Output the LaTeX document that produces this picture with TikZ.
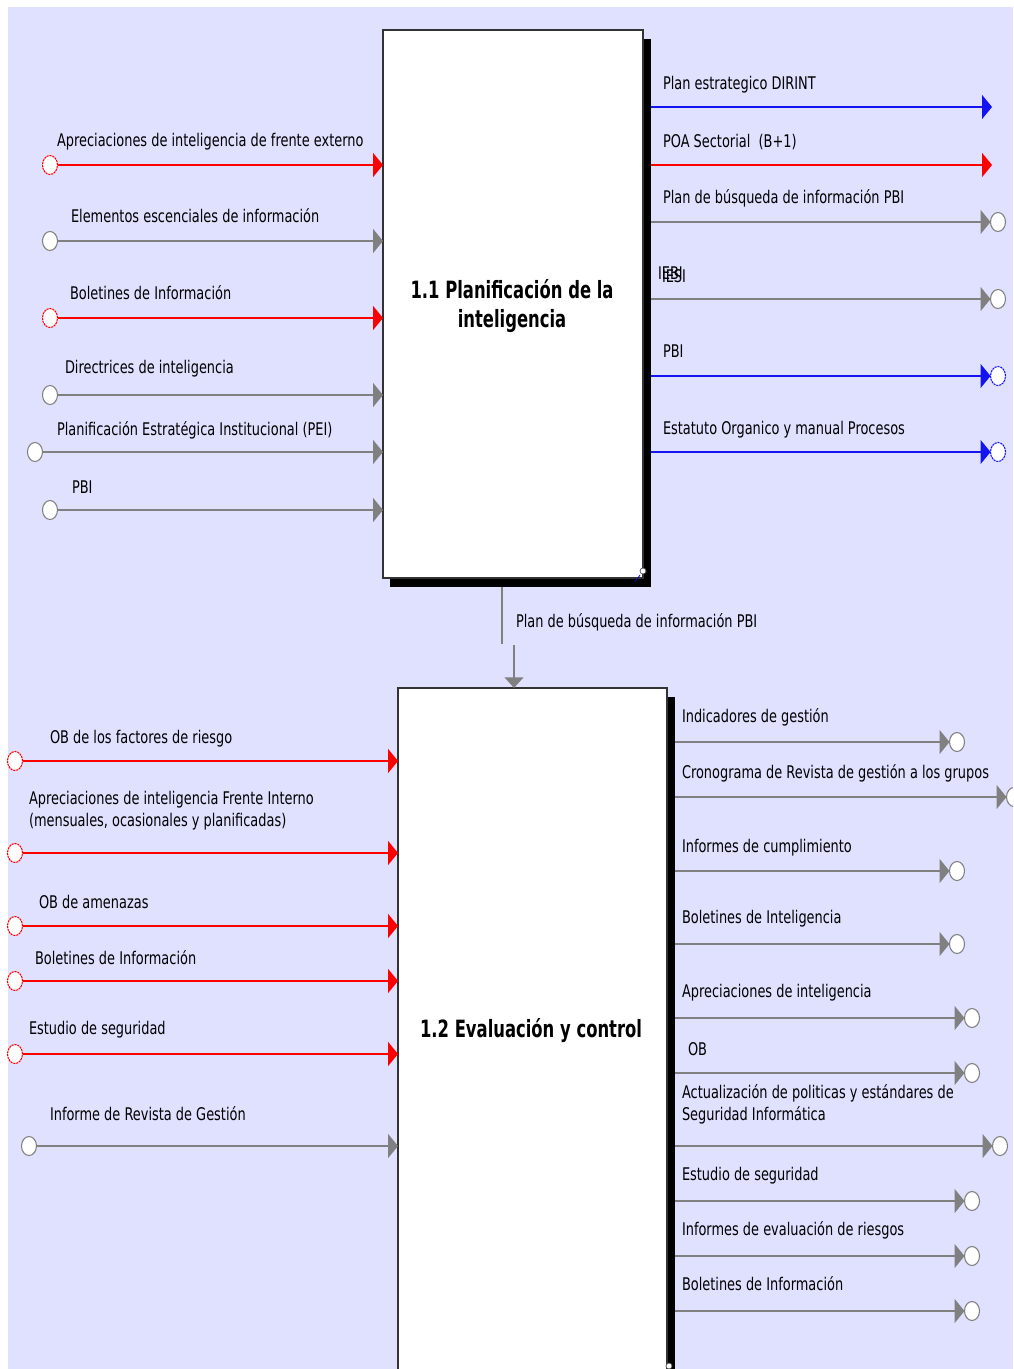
\documentclass[tikz,border=0pt]{standalone}
\usepackage{fontspec}
\usepackage{graphicx}
\setmainfont{DejaVu Sans}
\usetikzlibrary{arrows.meta,shapes.geometric}

\definecolor{lav}{RGB}{224,224,255}
\definecolor{flred}{RGB}{255,0,0}
\definecolor{flblue}{RGB}{20,20,240}
\definecolor{flgray}{RGB}{128,128,128}

% tall text, as the diagram tool prints it
\newcommand\vstr[1]{\scalebox{1}[1.35]{#1}}
\newcommand\tstr[1]{\scalebox{1}[1.45]{#1}}

\tikzset{
  lab/.style={anchor=base west, inner sep=0pt, outer sep=0pt, font=\fontsize{9.7}{12}\selectfont},
  ttl/.style={anchor=base, inner sep=0pt, outer sep=0pt, font=\fontsize{12.3}{15}\selectfont\bfseries},
  actbox/.style={rectangle, fill=white, draw=black!80, line width=1.1pt, inner sep=0pt, outer sep=0pt},
  actshadow/.style={rectangle, fill=black, inner sep=0pt, outer sep=0pt},
  port/.style={ellipse, minimum width=11.25pt, minimum height=14.25pt, inner sep=0pt, outer sep=0pt, fill=white, line width=0.8pt},
  rport/.style={port, draw=flred, dash pattern=on 1.6pt off 0.6pt},
  bport/.style={port, draw=flblue, dash pattern=on 1.6pt off 0.6pt},
  gport/.style={port, draw=flgray},
  flow/.style={line width=1.5pt, -{Triangle[length=7.5pt,width=18pt]}},
  rflow/.style={flow, draw=flred},
  bflow/.style={flow, draw=flblue},
  gflow/.style={flow, draw=flgray},
}

\begin{document}
\begin{tikzpicture}[x=0.75pt, y=-0.75pt]
\path[use as bounding box] (0,0) rectangle (1013,1369);
\clip (0,0) rectangle (1013,1369);
\fill[white] (0,0) rectangle (1013,1369);
\fill[lav] (8,7) rectangle (1013,1369);

% activity boxes with their shadows
\node[actshadow, minimum width=195.75pt, minimum height=411pt] (b1s) at (520.5,313) {};
\node[actbox, minimum width=195pt, minimum height=411pt] (b1) at (513,304) {};
\node[actshadow, minimum width=201.75pt, minimum height=519pt] (b2s) at (540.5,1042.5) {};
\node[actbox, minimum width=201.75pt, minimum height=519pt] (b2) at (532.5,1034) {};

\node[ttl] (t1) at (512,327) {\tstr{\begin{tabular}[b]{@{}c@{}}1.1 Planificación de la\\inteligencia\end{tabular}}};
\node[ttl] (t2) at (531,1037) {\tstr{1.2 Evaluación y control}};

% small markers at the box corners
\draw[flblue!70!black, line width=0.6pt] (640,575) -- (635,582);
\draw[fill=white, draw=black!70, line width=0.5pt] (643,571) circle[radius=3];
\draw[fill=white, draw=black!70, line width=0.5pt] (669,1366) circle[radius=3];

% ---- inputs of 1.1
\node[rport] (ia1) at (50,165) {};
\node[lab] (la1) at (57,147) {\vstr{Apreciaciones de inteligencia de frente externo}};
\draw[rflow] (ia1) -- (ia1 -| b1.west);

\node[gport] (ia2) at (50,241) {};
\node[lab] (la2) at (71,223) {\vstr{Elementos escenciales de información}};
\draw[gflow] (ia2) -- (ia2 -| b1.west);

\node[rport] (ia3) at (50,318) {};
\node[lab] (la3) at (70,300) {\vstr{Boletines de Información}};
\draw[rflow] (ia3) -- (ia3 -| b1.west);

\node[gport] (ia4) at (50,395) {};
\node[lab] (la4) at (65,373) {\vstr{Directrices de inteligencia}};
\draw[gflow] (ia4) -- (ia4 -| b1.west);

\node[gport] (ia5) at (35,452) {};
\node[lab] (la5) at (57,435) {\vstr{Planificación Estratégica Institucional (PEI)}};
\draw[gflow] (ia5) -- (ia5 -| b1.west);

\node[gport] (ia6) at (50,510) {};
\node[lab] (la6) at (72,493) {\vstr{PBI}};
\draw[gflow] (ia6) -- (ia6 -| b1.west);

% ---- outputs of 1.1
\coordinate (oa1) at (992,107);
\node[lab] (lo1) at (663,90) {\vstr{Plan estrategico DIRINT}};
\draw[bflow] (b1s.east |- oa1) -- (oa1);

\coordinate (oa2) at (992,165);
\node[lab] (lo2) at (663,148) {\vstr{POA Sectorial~ (B+1)}};
\draw[rflow] (b1s.east |- oa2) -- (oa2);

\node[gport] (oa3) at (998,222) {};
\node[lab] (lo3) at (663,204) {\vstr{Plan de búsqueda de información PBI}};
\draw[gflow] (b1s.east |- oa3) -- (oa3);

\node[gport] (oa4) at (998,299) {};
\node[lab] (lo4a) at (658,280) {\vstr{IEBI}};
\node[lab] (lo4b) at (662,282) {\vstr{IESI}};
\draw[gflow] (b1s.east |- oa4) -- (oa4);

\node[bport] (oa5) at (998,376) {};
\node[lab] (lo5) at (663,357) {\vstr{PBI}};
\draw[bflow] (b1s.east |- oa5) -- (oa5);

\node[bport] (oa6) at (998,452) {};
\node[lab] (lo6) at (663,434) {\vstr{Estatuto Organico y manual Procesos}};
\draw[bflow] (b1s.east |- oa6) -- (oa6);

% ---- link from 1.1 to 1.2
\coordinate (m1) at (502,644);
\coordinate (m2) at (514,645);
\draw[flgray, line width=1.5pt] (b1s.south -| m1) -- (m1);
\draw[flgray, line width=1.5pt, -{Triangle[length=8pt,width=14pt]}] (m2) -- (m2 |- b2.north);
\node[lab] (lm) at (516,627) {\vstr{Plan de búsqueda de información PBI}};

% ---- inputs of 1.2
\node[rport] (ib1) at (15,761) {};
\node[lab] (lb1) at (50,743) {\vstr{OB de los factores de riesgo}};
\draw[rflow] (ib1) -- (ib1 -| b2.west);

\node[rport] (ib2) at (15,853) {};
\node[lab] (lb2) at (29,826) {\vstr{\begin{tabular}[b]{@{}l@{}}Apreciaciones de inteligencia Frente Interno\\(mensuales, ocasionales y planificadas)\end{tabular}}};
\draw[rflow] (ib2) -- (ib2 -| b2.west);

\node[rport] (ib3) at (15,926) {};
\node[lab] (lb3) at (39,908) {\vstr{OB de amenazas}};
\draw[rflow] (ib3) -- (ib3 -| b2.west);

\node[rport] (ib4) at (15,981) {};
\node[lab] (lb4) at (35,964) {\vstr{Boletines de Información}};
\draw[rflow] (ib4) -- (ib4 -| b2.west);

\node[rport] (ib5) at (15,1054) {};
\node[lab] (lb5) at (29,1034) {\vstr{Estudio de seguridad}};
\draw[rflow] (ib5) -- (ib5 -| b2.west);

\node[gport] (ib6) at (29,1146) {};
\node[lab] (lb6) at (50,1120) {\vstr{Informe de Revista de Gestión}};
\draw[gflow] (ib6) -- (ib6 -| b2.west);

% ---- outputs of 1.2
\node[gport] (ob1) at (957,742) {};
\node[lab] (lc1) at (682,722) {\vstr{Indicadores de gestión}};
\draw[gflow] (b2s.east |- ob1) -- (ob1);

\node[gport] (ob2) at (1014,797) {};
\node[lab] (lc2) at (682,778) {\vstr{Cronograma de Revista de gestión a los grupos}};
\draw[gflow] (b2s.east |- ob2) -- (ob2);

\node[gport] (ob3) at (957,871) {};
\node[lab] (lc3) at (682,852) {\vstr{Informes de cumplimiento}};
\draw[gflow] (b2s.east |- ob3) -- (ob3);

\node[gport] (ob4) at (957,944) {};
\node[lab] (lc4) at (682,923) {\vstr{Boletines de Inteligencia}};
\draw[gflow] (b2s.east |- ob4) -- (ob4);

\node[gport] (ob5) at (972,1018) {};
\node[lab] (lc5) at (682,997) {\vstr{Apreciaciones de inteligencia}};
\draw[gflow] (b2s.east |- ob5) -- (ob5);

\node[gport] (ob6) at (972,1073) {};
\node[lab] (lc6) at (688,1055) {\vstr{OB}};
\draw[gflow] (b2s.east |- ob6) -- (ob6);

\node[gport] (ob7) at (1000,1146) {};
\node[lab] (lc7) at (682,1120) {\vstr{\begin{tabular}[b]{@{}l@{}}Actualización de politicas y estándares de\\Seguridad Informática\end{tabular}}};
\draw[gflow] (b2s.east |- ob7) -- (ob7);

\node[gport] (ob8) at (972,1201) {};
\node[lab] (lc8) at (682,1180) {\vstr{Estudio de seguridad}};
\draw[gflow] (b2s.east |- ob8) -- (ob8);

\node[gport] (ob9) at (972,1256) {};
\node[lab] (lc9) at (682,1235) {\vstr{Informes de evaluación de riesgos}};
\draw[gflow] (b2s.east |- ob9) -- (ob9);

\node[gport] (ob10) at (972,1311) {};
\node[lab] (lc10) at (682,1290) {\vstr{Boletines de Información}};
\draw[gflow] (b2s.east |- ob10) -- (ob10);
\end{tikzpicture}
\end{document}
